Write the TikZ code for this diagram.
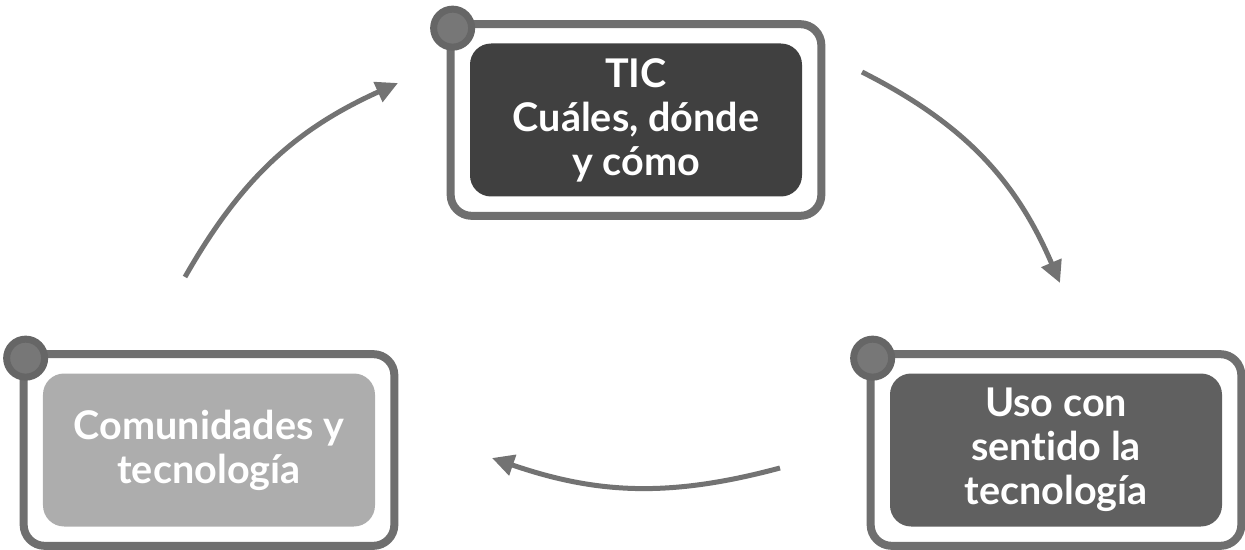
\documentclass[tikz,border=0pt]{standalone}
\usepackage{fontspec}
\setmainfont{Lato}[RawFeature=-liga]
\usetikzlibrary{arrows.meta,positioning,fit,calc}

\definecolor{framegray}{HTML}{6F6F6F}
\definecolor{arrowgray}{HTML}{737373}
\definecolor{dotring}{HTML}{666666}
\definecolor{dotfill}{HTML}{777777}
\definecolor{ticfill}{HTML}{404040}
\definecolor{usofill}{HTML}{606060}
\definecolor{comfill}{HTML}{ADADAD}

\begin{document}
\begin{tikzpicture}[
  font=\bfseries\fontsize{22.5}{25}\selectfont,
  card/.style={rounded corners=12pt, align=center, text=white, minimum width=6.64cm, minimum height=3.06cm, inner sep=0pt},
  frame/.style={draw=framegray, line width=0.16cm, rounded corners=12pt, inner sep=0.38cm},
  dot/.style={circle, draw=dotring, fill=dotfill, line width=0.14cm, minimum size=0.76cm, inner sep=0pt},
  arrow/.style={-{Triangle[length=0.44cm, width=0.42cm]}, line width=0.1cm, draw=arrowgray}
]
\useasboundingbox (0,0) rectangle (24.9,-11);

\node[card, fill=ticfill] (tic) at (12.72,-2.40) {TIC\\Cuáles, dónde\\y cómo};
\node[card, fill=comfill] (com) at (4.18,-9.00) {Comunidades y\\tecnología};
\node[card, fill=usofill] (uso) at (21.12,-9.00) {Uso con\\sentido la\\tecnología};

\node[frame, fit=(tic)] (ticframe) {};
\node[frame, fit=(com)] (comframe) {};
\node[frame, fit=(uso)] (usoframe) {};

\node[dot] (ticdot) at ($(ticframe.north west)+(0.12,-0.16)$) {};
\node[dot] (comdot) at ($(comframe.north west)+(0.12,-0.16)$) {};
\node[dot] (usodot) at ($(usoframe.north west)+(0.12,-0.16)$) {};

% free ends of the cycle arrows
\coordinate (c1) at (3.70,-5.54);
\coordinate (t1) at (7.96,-1.66);
\coordinate (c2) at (17.24,-1.44);
\coordinate (t2) at (21.20,-5.66);
\coordinate (c3) at (15.60,-9.36);
\coordinate (t3) at (9.84,-9.16);

\draw[arrow] (c1) to[bend left=18] (t1);
\draw[arrow] (c2) to[bend left=20] (t2);
\draw[arrow] (c3) to[bend left=17] (t3);

\end{tikzpicture}
\end{document}
